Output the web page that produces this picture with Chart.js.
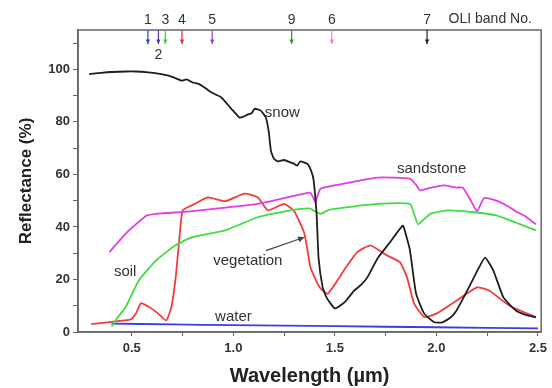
<!DOCTYPE html>
<html>
<head>
<meta charset="utf-8">
<script src="https://cdn.jsdelivr.net/npm/chart.js@4.4.1/dist/chart.umd.min.js"></script>
<style>
  html, body { margin: 0; padding: 0; background: #fff; }
  #wrap { width: 552px; height: 388px; }
</style>
</head>
<body>
<div id="wrap"><canvas id="spectra"></canvas></div>
<script>
// spectral curves (wavelength in µm, reflectance in %)
const snowX = [0.29, 0.35, 0.40, 0.47, 0.52, 0.58, 0.63, 0.68, 0.72, 0.745, 0.77, 0.80, 0.83, 0.86, 0.89, 0.94, 0.99, 1.03, 1.05, 1.07, 1.09, 1.105, 1.135, 1.16, 1.175, 1.185, 1.20, 1.22, 1.25, 1.28, 1.30, 1.315, 1.33, 1.365, 1.385, 1.395, 1.41, 1.42, 1.44, 1.46, 1.50, 1.55, 1.595, 1.63, 1.66, 1.71, 1.77, 1.835, 1.85, 1.87, 1.90, 1.94, 1.99, 2.03, 2.07, 2.10, 2.16, 2.21, 2.24, 2.28, 2.33, 2.39, 2.44, 2.49];
const snowY = [98.2, 98.7, 99.0, 99.2, 99.2, 98.9, 98.4, 97.6, 96.5, 95.7, 96.2, 95.0, 94.5, 93.0, 91.3, 89.4, 85, 81.7, 82.0, 82.8, 83.3, 85, 84.3, 81.7, 76, 69, 66, 65, 65.5, 64.6, 64.0, 63.4, 65, 64, 61, 58, 45, 28, 17, 13, 9, 11.5, 15.8, 18, 20.8, 28, 34, 40.5, 37, 31, 14.6, 7, 3.7, 3.7, 5.5, 8.3, 17, 24.6, 28.3, 23.5, 13.2, 8.3, 6.5, 5.6];

const sandX = [0.39, 0.43, 0.47, 0.52, 0.575, 0.65, 0.715, 0.80, 0.96, 1.12, 1.25, 1.365, 1.38, 1.395, 1.405, 1.415, 1.43, 1.545, 1.71, 1.87, 1.90, 1.92, 1.95, 2.035, 2.10, 2.13, 2.17, 2.20, 2.235, 2.295, 2.35, 2.39, 2.44, 2.49];
const sandY = [30.4, 34, 37.5, 41, 44.4, 45.2, 45.5, 46, 47.4, 48.8, 51, 53, 53, 51, 49.3, 52, 54.6, 56.5, 58.8, 58.4, 56, 53.9, 54.5, 55.8, 55, 55, 50, 46, 51, 50, 48, 46, 44, 41];

const soilX = [0.40, 0.43, 0.47, 0.535, 0.62, 0.715, 0.795, 0.96, 1.12, 1.28, 1.35, 1.38, 1.40, 1.43, 1.47, 1.545, 1.71, 1.87, 1.89, 1.91, 1.97, 2.06, 2.20, 2.295, 2.39, 2.49];
const soilY = [2, 5.5, 9.5, 19.7, 27.3, 33, 36, 38.7, 43.7, 46.3, 47, 47, 46, 45, 46.5, 47.4, 48.8, 48.8, 45, 41, 45, 46.3, 45.5, 44.4, 41.7, 38.7];

const vegX = [0.30, 0.39, 0.495, 0.52, 0.545, 0.585, 0.63, 0.67, 0.695, 0.715, 0.73, 0.75, 0.795, 0.875, 0.96, 1.055, 1.12, 1.17, 1.25, 1.30, 1.35, 1.38, 1.425, 1.465, 1.545, 1.61, 1.675, 1.755, 1.82, 1.855, 1.89, 1.94, 2.00, 2.10, 2.20, 2.26, 2.36, 2.49];
const vegY = [3, 3.8, 4.8, 7, 11, 9.5, 7, 4.4, 9.5, 20, 32, 46.3, 48.2, 51.3, 49.8, 52.7, 51.3, 46.3, 48.8, 46, 37.5, 24.6, 17, 14.6, 23.5, 30.4, 33, 29.2, 26.6, 20.9, 10.9, 5.7, 7, 12, 17, 15.8, 10, 5.7];

const waterX = [0.40, 0.70, 1.00, 1.50, 2.00, 2.50];
const waterY = [3.2, 2.9, 2.6, 2.2, 1.8, 1.4];

// OLI band markers along the top edge
const bandNames = ['1', '2', '3', '4', '5', '9', '6', '7'];
const bandX = [0.579, 0.631, 0.665, 0.747, 0.896, 1.287, 1.485, 1.954];
const bandColors = ['#2a3cf0', '#4a3aa8', '#2bd82b', '#f02a2a', '#9a40c8', '#1f9a2a', '#f07ad8', '#222'];

const xTickVals = [0.5, 0.75, 1.0, 1.25, 1.5, 1.75, 2.0, 2.25, 2.5];
const yTickVals = [0, 10, 20, 30, 40, 50, 60, 70, 80, 90, 100, 110];

// curve names and where they sit (data units)
const curveLabels = [
  { text: 'snow', x: 1.155, y: 83.5 },
  { text: 'sandstone', x: 1.806, y: 62.1 },
  { text: 'soil', x: 0.412, y: 22.8 },
  { text: 'vegetation', x: 0.901, y: 26.9 },
  { text: 'water', x: 0.91, y: 5.7 }
];

const pts = (xs, ys) => xs.map((x, i) => ({ x: x, y: ys[i] }));

function line(label, xs, ys, color) {
  return {
    label: label,
    data: pts(xs, ys),
    showLine: true,
    borderColor: color,
    borderWidth: 1.8,
    pointRadius: 0,
    tension: 0.15,
    fill: false
  };
}

function arrow(ctx, x1, y1, x2, y2, color, head) {
  const a = Math.atan2(y2 - y1, x2 - x1);
  ctx.strokeStyle = color;
  ctx.fillStyle = color;
  ctx.lineWidth = 1.2;
  ctx.beginPath();
  ctx.moveTo(x1, y1);
  ctx.lineTo(x2, y2);
  ctx.stroke();
  ctx.beginPath();
  ctx.moveTo(x2, y2);
  ctx.lineTo(x2 - head * Math.cos(a - 0.45), y2 - head * Math.sin(a - 0.45));
  ctx.lineTo(x2 - head * Math.cos(a + 0.45), y2 - head * Math.sin(a + 0.45));
  ctx.closePath();
  ctx.fill();
}

const annotations = {
  id: 'annotations',
  afterDatasetsDraw(chart) {
    const ctx = chart.ctx;
    const xs = chart.scales.x, ys = chart.scales.y;
    const area = chart.chartArea;
    ctx.save();

    // frame on top and right
    ctx.strokeStyle = '#666';
    ctx.lineWidth = 1.5;
    ctx.strokeRect(area.left, area.top, area.right - area.left, area.bottom - area.top);

    ctx.font = '15px "Liberation Sans", Arial, sans-serif';
    ctx.fillStyle = '#333';
    ctx.textBaseline = 'middle';
    ctx.textAlign = 'left';
    curveLabels.forEach(l => ctx.fillText(l.text, xs.getPixelForValue(l.x), ys.getPixelForValue(l.y)));

    // pointer from "vegetation"
    arrow(ctx, xs.getPixelForValue(1.16), ys.getPixelForValue(31),
      xs.getPixelForValue(1.35), ys.getPixelForValue(36.1), '#444', 7);

    // band arrows
    ctx.font = '14px "Liberation Sans", Arial, sans-serif';
    ctx.textAlign = 'center';
    bandX.forEach((b, i) => {
      const px = xs.getPixelForValue(b);
      arrow(ctx, px, area.top, px, area.top + 14, bandColors[i], 5);
      ctx.fillStyle = '#333';
      const ty = bandNames[i] === '2' ? area.top + 25 : area.top - 10;
      ctx.fillText(bandNames[i], px, ty);
    });
    ctx.textAlign = 'left';
    ctx.fillText('OLI band No.', xs.getPixelForValue(2.06), area.top - 11);
    ctx.restore();
  }
};

const tickFont = { family: '"Liberation Sans", Arial, sans-serif', size: 13, weight: 'bold' };

new Chart(document.getElementById('spectra'), {
  type: 'scatter',
  data: {
    datasets: [
      line('snow', snowX, snowY, '#1e1e1e'),
      line('sandstone', sandX, sandY, '#e23ce6'),
      line('soil', soilX, soilY, '#40dc40'),
      line('vegetation', vegX, vegY, '#f03c3c'),
      line('water', waterX, waterY, '#3c3ce8')
    ]
  },
  options: {
    responsive: true,
    maintainAspectRatio: false,
    animation: false,
    layout: { padding: { top: 30, right: 7, left: 0, bottom: 0 } },
    plugins: { legend: { display: false }, tooltip: { enabled: false } },
    scales: {
      x: {
        type: 'linear',
        min: 0.235,
        max: 2.516,
        afterBuildTicks: s => { s.ticks = xTickVals.map(v => ({ value: v })); },
        afterFit: s => { s.height = 56; },
        ticks: {
          font: tickFont,
          color: '#333',
          padding: 5,
          maxRotation: 0,
          callback: v => (Math.abs(v * 2 - Math.round(v * 2)) < 1e-6 ? v.toFixed(1) : '')
        },
        grid: { display: true, drawOnChartArea: false, drawTicks: true, tickLength: 4, color: '#666' },
        border: { display: true, color: '#666', width: 1.5 },
        title: {
          display: true,
          text: 'Wavelength (µm)',
          color: '#222',
          font: { family: '"Liberation Sans", Arial, sans-serif', size: 20, weight: 'bold' },
          padding: { top: 0, bottom: 0 }
        }
      },
      y: {
        min: 0,
        max: 115,
        afterBuildTicks: s => { s.ticks = yTickVals.map(v => ({ value: v })); },
        afterFit: s => { s.width = 78; },
        ticks: {
          font: tickFont,
          color: '#333',
          padding: 3,
          callback: v => (v % 20 === 0 ? v : '')
        },
        grid: { display: true, drawOnChartArea: false, drawTicks: true, tickLength: 5, color: '#666' },
        border: { display: true, color: '#666', width: 1.5 },
        title: {
          display: true,
          text: 'Reflectance (%)',
          color: '#222',
          font: { family: '"Liberation Sans", Arial, sans-serif', size: 17, weight: 'bold' },
          padding: { top: 16, bottom: 0 }
        }
      }
    }
  },
  plugins: [annotations]
});
</script>
</body>
</html>
